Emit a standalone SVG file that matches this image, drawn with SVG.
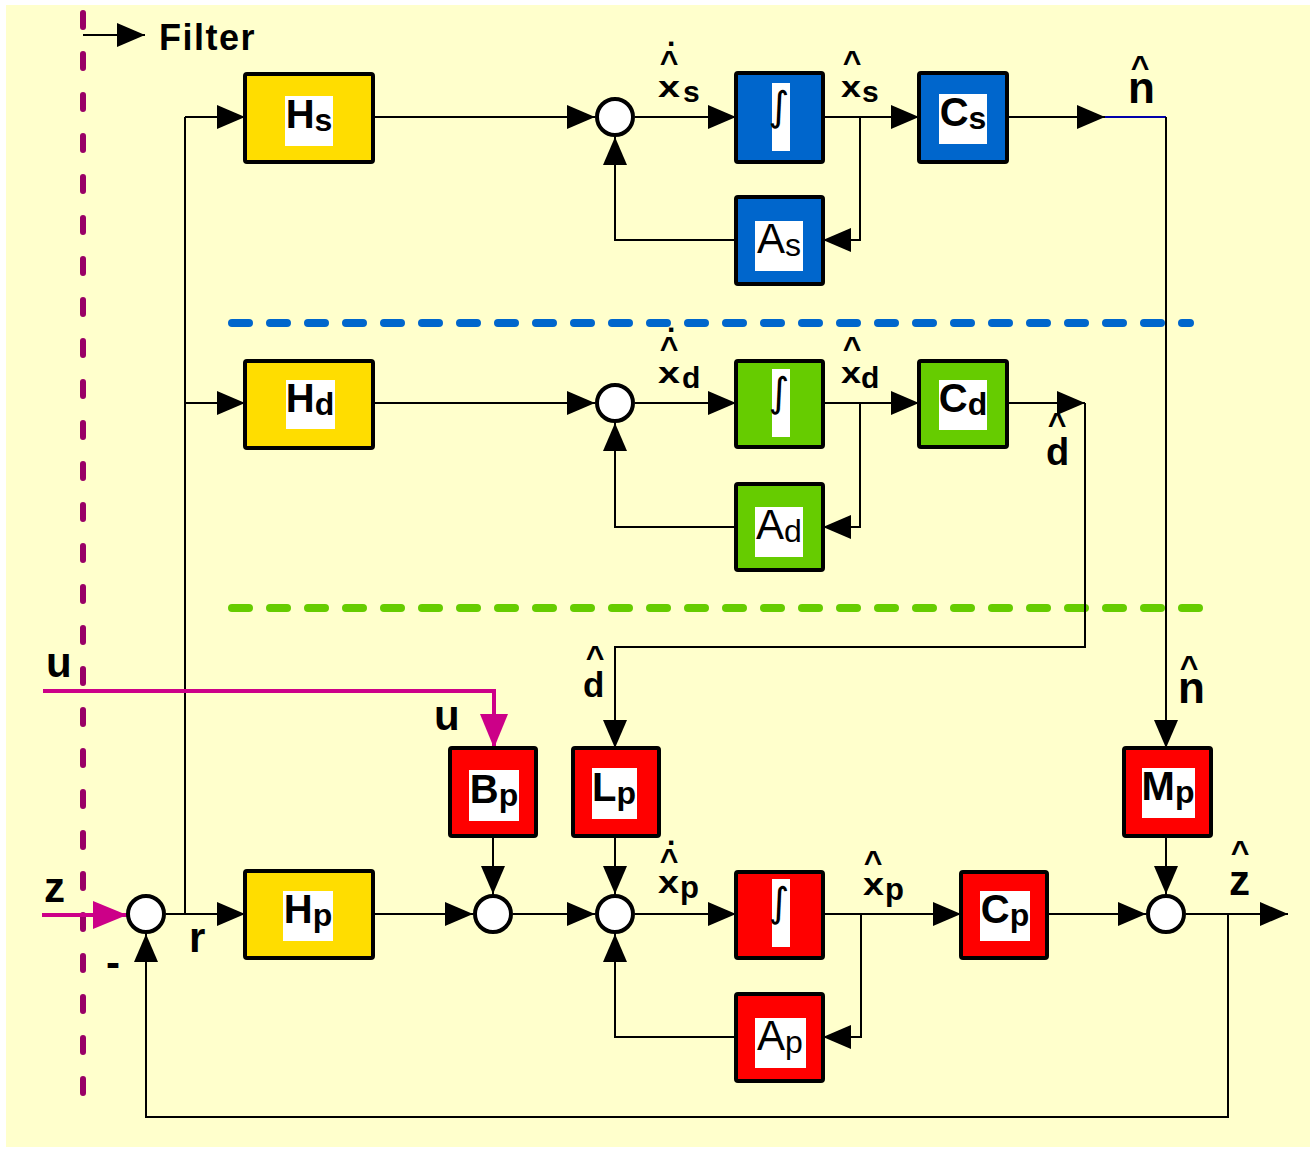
<svg xmlns="http://www.w3.org/2000/svg" width="1316" height="1149" viewBox="0 0 1316 1149">
<defs>
<style>
.bg{fill:#FFFFCC}
.box{stroke:#000;stroke-width:4}
.y{fill:#FFDD00}.b{fill:#0066CC}.g{fill:#66CC00}.r{fill:#FF0000}
.in{fill:#fff}
.sum{fill:#fff;stroke:#000;stroke-width:4}
.c{fill:none;stroke:#000;stroke-width:2;marker-end:url(#ah)}
.cn{fill:none;stroke:#000;stroke-width:2}
.m{fill:none;stroke:#CC0088;stroke-width:4;marker-end:url(#am)}
.t{font-family:"Liberation Sans",Arial,sans-serif;font-weight:bold;fill:#000}
.lb{font-family:"Liberation Sans",Arial,sans-serif;font-weight:bold;font-size:40px;text-anchor:middle;fill:#000}
.lbn{font-family:"Liberation Sans",Arial,sans-serif;font-weight:normal;font-size:42px;text-anchor:middle;fill:#000}
.int{font-family:"DejaVu Sans",sans-serif;font-size:40px;text-anchor:middle;fill:#000}
.hat{font-family:"Liberation Sans",Arial,sans-serif;font-weight:bold;font-size:32px;text-anchor:middle;fill:#000}
.dash{fill:none;stroke-width:8;stroke-linecap:round;stroke-dasharray:17 21}
</style>
<marker id="ah" markerUnits="userSpaceOnUse" markerWidth="28" markerHeight="24" refX="28" refY="12" orient="auto"><path d="M0,0 L28,12 L0,24 Z" fill="#000"/></marker>
<marker id="am" markerUnits="userSpaceOnUse" markerWidth="34" markerHeight="28" refX="34" refY="14" orient="auto"><path d="M0,0 L34,14 L0,28 Z" fill="#CC0088"/></marker>
</defs>
<rect width="1316" height="1149" fill="#fff"/>
<rect class="bg" x="6" y="5" width="1304" height="1142"/>

<g id="separators">
<line x1="83" y1="13" x2="83" y2="1097" stroke="#990066" stroke-width="6" stroke-linecap="round" stroke-dasharray="14 27"/>
<line class="dash" x1="232" y1="323" x2="1190" y2="323" stroke="#0066CC"/>
<line class="dash" x1="232" y1="608" x2="1212" y2="608" stroke="#66CC00"/>
</g>

<g id="connectors">
<path class="c" d="M83,35 H145"/>
<path class="cn" d="M185,914 V117"/>
<path class="c" d="M185,117 H245"/>
<path class="c" d="M185,403 H245"/>
<path class="c" d="M373,117 H595"/>
<path class="c" d="M635,117 H736"/>
<path class="c" d="M823,117 H919"/>
<path class="c" d="M860,117 V240 H823"/>
<path class="c" d="M736,240 H615 V137"/>
<path class="c" d="M1007,117 H1105"/>
<path d="M1105,117 H1166" fill="none" stroke="#0000AA" stroke-width="2"/>
<path class="c" d="M1166,117 V748"/>
<path class="c" d="M373,403 H595"/>
<path class="c" d="M635,403 H736"/>
<path class="c" d="M823,403 H919"/>
<path class="c" d="M860,403 V527 H823"/>
<path class="c" d="M736,527 H615 V423"/>
<path class="c" d="M1007,403 H1085"/>
<path class="c" d="M1085,403 V647 H615 V748"/>
<path class="c" d="M166,914 H245"/>
<path class="c" d="M373,914 H473"/>
<path class="c" d="M513,914 H595"/>
<path class="c" d="M635,914 H736"/>
<path class="c" d="M823,914 H961"/>
<path class="c" d="M861,914 V1037 H823"/>
<path class="c" d="M736,1037 H615 V934"/>
<path class="c" d="M1047,914 H1146"/>
<path class="c" d="M1186,914 H1288"/>
<path class="c" d="M1228,914 V1117 H146 V934"/>
<path class="c" d="M493,836 V894"/>
<path class="c" d="M615,836 V894"/>
<path class="c" d="M1166,836 V894"/>
<path class="m" d="M42,915 H127"/>
<path class="m" d="M43,691 H494 V748"/>
</g>

<g id="Hs"><rect class="box y" x="245" y="74" width="128" height="88" rx="2"/><rect class="in" x="285" y="96" width="48" height="50"/><text class="lb" x="309" y="128">H<tspan font-size="32" dy="3">s</tspan></text></g>
<g id="Hd"><rect class="box y" x="245" y="361" width="128" height="87" rx="2"/><rect class="in" x="286" y="380" width="49" height="49"/><text class="lb" x="310" y="412">H<tspan font-size="32" dy="3">d</tspan></text></g>
<g id="Hp"><rect class="box y" x="245" y="871" width="128" height="87" rx="2"/><rect class="in" x="283" y="891" width="50" height="50"/><text class="lb" x="308" y="923">H<tspan font-size="32" dy="3">p</tspan></text></g>

<g id="Is"><rect class="box b" x="736" y="73" width="87" height="89" rx="2"/><rect class="in" x="772" y="83" width="18" height="68"/><text class="int" x="779" y="120">∫</text></g>
<g id="Id"><rect class="box g" x="736" y="361" width="87" height="86" rx="2"/><rect class="in" x="772" y="369" width="18" height="68"/><text class="int" x="779" y="406">∫</text></g>
<g id="Ip"><rect class="box r" x="736" y="872" width="87" height="86" rx="2"/><rect class="in" x="772" y="879" width="18" height="68"/><text class="int" x="779" y="916">∫</text></g>

<g id="Cs"><rect class="box b" x="919" y="73" width="88" height="89" rx="2"/><rect class="in" x="939" y="94" width="48" height="50"/><text class="lb" x="963" y="126">C<tspan font-size="32" dy="3">s</tspan></text></g>
<g id="Cd"><rect class="box g" x="919" y="361" width="88" height="86" rx="2"/><rect class="in" x="939" y="380" width="48" height="50"/><text class="lb" x="963" y="412">C<tspan font-size="32" dy="3">d</tspan></text></g>
<g id="Cp"><rect class="box r" x="961" y="872" width="86" height="86" rx="2"/><rect class="in" x="980" y="891" width="50" height="50"/><text class="lb" x="1005" y="923">C<tspan font-size="32" dy="3">p</tspan></text></g>

<g id="As"><rect class="box b" x="736" y="197" width="87" height="87" rx="2"/><rect class="in" x="755" y="221" width="48" height="50"/><text class="lbn" x="779" y="253">A<tspan font-size="32" dy="3">s</tspan></text></g>
<g id="Ad"><rect class="box g" x="736" y="484" width="87" height="86" rx="2"/><rect class="in" x="755" y="507" width="48" height="50"/><text class="lbn" x="779" y="539">A<tspan font-size="32" dy="3">d</tspan></text></g>
<g id="Ap"><rect class="box r" x="736" y="994" width="87" height="87" rx="2"/><rect class="in" x="755" y="1018" width="51" height="50"/><text class="lbn" x="780" y="1050">A<tspan font-size="32" dy="3">p</tspan></text></g>

<g id="Bp"><rect class="box r" x="450" y="748" width="86" height="88" rx="2"/><rect class="in" x="469" y="770" width="50" height="51"/><text class="lb" x="494" y="803">B<tspan font-size="32" dy="3">p</tspan></text></g>
<g id="Lp"><rect class="box r" x="573" y="748" width="86" height="88" rx="2"/><rect class="in" x="592" y="768" width="45" height="51"/><text class="lb" x="614" y="801">L<tspan font-size="32" dy="3">p</tspan></text></g>
<g id="Mp"><rect class="box r" x="1124" y="748" width="87" height="88" rx="2"/><rect class="in" x="1142" y="768" width="53" height="50"/><text class="lb" x="1168" y="800">M<tspan font-size="32" dy="3">p</tspan></text></g>

<g id="S1"><circle class="sum" cx="615" cy="117" r="18"/></g>
<g id="S2"><circle class="sum" cx="615" cy="403" r="18"/></g>
<g id="S3"><circle class="sum" cx="146" cy="914" r="18"/></g>
<g id="S4"><circle class="sum" cx="493" cy="914" r="18"/></g>
<g id="S5"><circle class="sum" cx="615" cy="914" r="18"/></g>
<g id="S6"><circle class="sum" cx="1166" cy="914" r="18"/></g>

<g id="labels">
<text class="t" x="159" y="50" font-size="36" letter-spacing="1.5">Filter</text>
<!-- xs dot hat -->
<text class="t" x="667" y="46" font-size="30">.</text>
<text class="hat" x="669" y="73">^</text>
<text class="t" x="658" y="97" font-size="30" textLength="22" lengthAdjust="spacingAndGlyphs">x</text>
<text class="t" x="683" y="102" font-size="30">s</text>
<!-- xs hat -->
<text class="hat" x="852" y="73">^</text>
<text class="t" x="841" y="97" font-size="30" textLength="20" lengthAdjust="spacingAndGlyphs">x</text>
<text class="t" x="862" y="102" font-size="30">s</text>
<!-- n hat top -->
<text class="hat" x="1140" y="78" font-size="36">^</text>
<text class="t" x="1128" y="103" font-size="44">n</text>
<!-- xd dot hat -->
<text class="t" x="667" y="332" font-size="30">.</text>
<text class="hat" x="669" y="359">^</text>
<text class="t" x="658" y="383" font-size="30" textLength="22" lengthAdjust="spacingAndGlyphs">x</text>
<text class="t" x="682" y="388" font-size="30">d</text>
<!-- xd hat -->
<text class="hat" x="852" y="359">^</text>
<text class="t" x="841" y="383" font-size="30" textLength="20" lengthAdjust="spacingAndGlyphs">x</text>
<text class="t" x="861" y="388" font-size="30">d</text>
<!-- d hat right -->
<text class="hat" x="1057" y="435">^</text>
<text class="t" x="1046" y="465" font-size="38">d</text>
<!-- d hat left -->
<text class="hat" x="595" y="668">^</text>
<text class="t" x="583" y="697" font-size="35">d</text>
<!-- u -->
<text class="t" x="46" y="677" font-size="42">u</text>
<text class="t" x="434" y="730" font-size="42">u</text>
<!-- z, r, - -->
<text class="t" x="44" y="902" font-size="42">z</text>
<text class="t" x="189" y="952" font-size="42">r</text>
<text class="t" x="106" y="977" font-size="42">-</text>
<!-- xp dot hat -->
<text class="t" x="667" y="845" font-size="30">.</text>
<text class="hat" x="669" y="871">^</text>
<text class="t" x="658" y="893" font-size="32" textLength="21" lengthAdjust="spacingAndGlyphs">x</text>
<text class="t" x="680" y="898" font-size="31">p</text>
<!-- xp hat -->
<text class="hat" x="873" y="873">^</text>
<text class="t" x="863" y="895" font-size="32" textLength="21" lengthAdjust="spacingAndGlyphs">x</text>
<text class="t" x="885" y="900" font-size="31">p</text>
<!-- n hat near Mp -->
<text class="hat" x="1189" y="678" font-size="36">^</text>
<text class="t" x="1178" y="703" font-size="44">n</text>
<!-- z hat -->
<text class="hat" x="1240" y="863">^</text>
<text class="t" x="1229" y="895" font-size="42">z</text>
</g>
</svg>
